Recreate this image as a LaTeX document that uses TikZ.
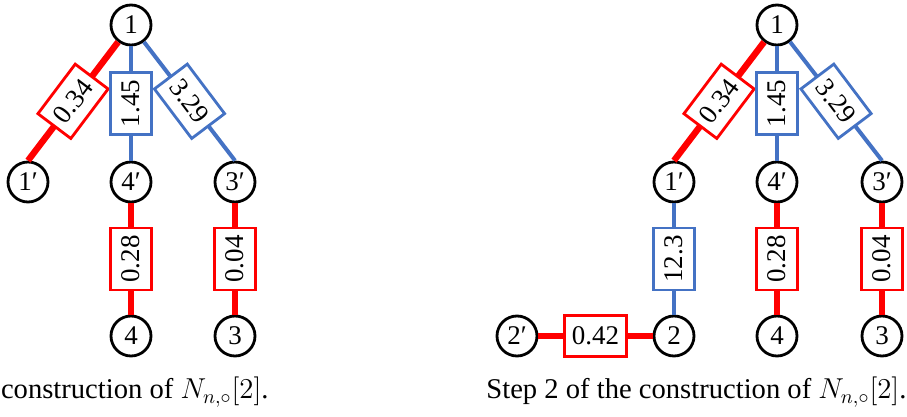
\documentclass[tikz,border=0pt]{standalone}
\usepackage{fontspec}
\setmainfont{Liberation Serif}
\usetikzlibrary{positioning}
\definecolor{linkred}{RGB}{255,0,0}
\definecolor{linkblue}{RGB}{68,114,196}
\tikzset{
  vtx/.style={circle, draw=black, line width=1.4pt, fill=white, minimum size=20pt, inner sep=0pt, font=\fontsize{13.5}{15}\selectfont},
  redline/.style={draw=linkred, line width=3.2pt},
  blueline/.style={draw=linkblue, line width=2pt},
  wbox/.style={rectangle, line width=1.4pt, fill=white, minimum width=31pt, minimum height=20.6pt, inner sep=0pt, font=\fontsize{13.5}{15}\selectfont},
  redbox/.style={wbox, draw=linkred},
  bluebox/.style={wbox, draw=linkblue},
  caption/.style={font=\fontsize{14.3}{17}\selectfont, inner sep=0pt}
}
% vertex: name, position, label
\newcommand\vtx[3]{\node[vtx] (#1) at (#2) {#3};}
% weighted link: from, to, weight, colour (red/blue), angle of the weight box
\newcommand\weightlink[5]{\draw[#4line] (#1) -- (#2) node[midway, #4box, rotate=#5] {#3};}

\begin{document}
\begin{tikzpicture}[x=0.5pt, y=-0.5pt]
\clip (0,0) rectangle (907,417);
% step 1
\vtx{a1}{131,25}{1}
	\vtx{a1p}{28,182}{1′}
	\vtx{a4p}{131,182}{4′}
	\vtx{a3p}{235,182}{3′}
	\vtx{a4}{131,336}{4}
	\vtx{a3}{235,336}{3}
	\weightlink{a1}{a1p.north}{0.34}{red}{53}
	\weightlink{a1}{a4p}{1.45}{blue}{90}
	\weightlink{a1}{a3p.north}{3.29}{blue}{-53}
	\weightlink{a4p}{a4}{0.28}{red}{90}
	\weightlink{a3p}{a3}{0.04}{red}{90}
	
	\node[caption, anchor=base east] (capa) at (269,399) {construction of $N_{n,\circ}[2]$.};
	
% step 2
\vtx{b1}{777,25}{1}
	\vtx{b1p}{674,182}{1′}
	\vtx{b4p}{777,182}{4′}
	\vtx{b3p}{882,182}{3′}
	\vtx{b2p}{517,336}{2′}
	\vtx{b2}{674,336}{2}
	\vtx{b4}{777,336}{4}
	\vtx{b3}{882,336}{3}
	\weightlink{b1}{b1p.north}{0.34}{red}{53}
	\weightlink{b1}{b4p}{1.45}{blue}{90}
	\weightlink{b1}{b3p.north}{3.29}{blue}{-53}
	\weightlink{b1p}{b2}{12.3}{blue}{90}
	\weightlink{b2p}{b2}{0.42}{red}{0}
	\weightlink{b4p}{b4}{0.28}{red}{90}
	\weightlink{b3p}{b3}{0.04}{red}{90}
	
	\node[caption, anchor=base west] (capb) at (486,399) {Step 2 of the construction of $N_{n,\circ}[2]$.};
\end{tikzpicture}
\end{document}
